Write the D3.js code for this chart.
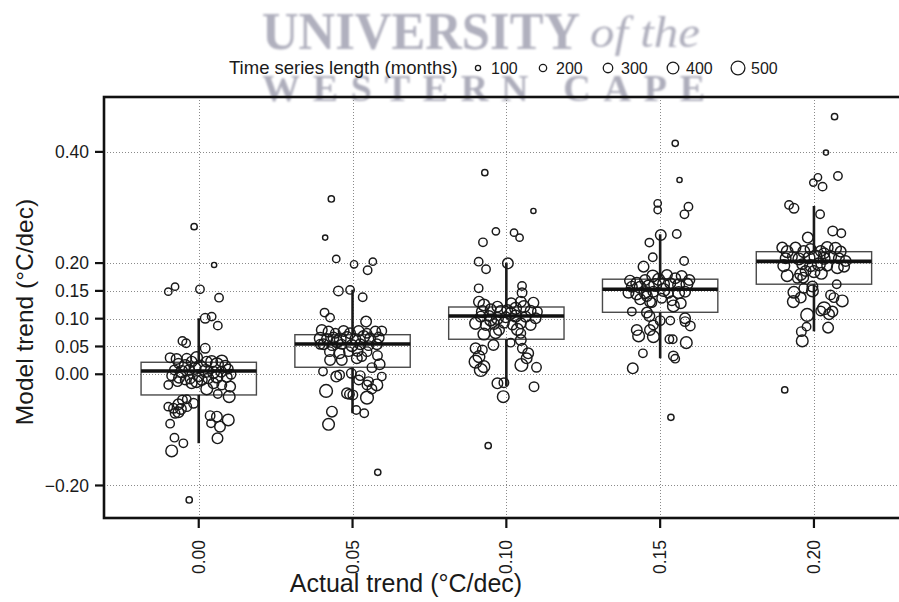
<!DOCTYPE html>
<html>
<head>
<meta charset="utf-8">
<script src="https://cdn.jsdelivr.net/npm/d3@7"></script>
<style>
  html, body { margin: 0; padding: 0; background: #fff; }
  svg { display: block; font-family: "Liberation Sans", Arial, Helvetica, sans-serif; }
</style>
</head>
<body>
<svg id="chart" width="899" height="602"></svg>
<script>
// Actual trend categories (°C/dec) and y-axis ticks
const categories = [0.00, 0.05, 0.10, 0.15, 0.20];
const yTicks = [-0.20, 0.00, 0.05, 0.10, 0.15, 0.20, 0.40];
const legendLengths = [100, 200, 300, 400, 500];

// Box-plot summaries per category
const boxLower   = [-0.0372, 0.0126, 0.0630, 0.1115, 0.1620];
const boxMedian  = [ 0.0060, 0.0545, 0.1049, 0.1530, 0.2030];
const boxUpper   = [ 0.0216, 0.0712, 0.1210, 0.1710, 0.2205];
const whiskerLow = [-0.1240, -0.0700, -0.0210, 0.0288, 0.0773];
const whiskerHigh= [ 0.1007, 0.1520, 0.2007, 0.2518, 0.3027];

// Individual model runs: [jitter (°C/dec), model trend (°C/dec), series length (months)]
const runs000 = [
  [-0.0015,0.2655,150],[0.0050,0.1966,100],[-0.0099,0.1486,200],[-0.0077,0.1576,200],[0.0004,0.1528,250],
  [0.0066,0.1378,250],[0.0021,0.1007,300],[0.0042,0.1037,250],[0.0062,0.0875,250],[-0.0053,0.0599,250],
  [-0.0041,0.0557,250],[0.0021,0.0467,300],[-0.0093,0.0299,300],[-0.0007,0.0299,400],[0.0075,0.0239,400],
  [-0.0066,0.0197,300],[-0.0044,0.0155,400],[-0.0023,0.0227,350],[0.0004,0.0137,450],[0.0042,0.0227,400],
  [0.0059,0.0179,450],[0.0086,0.0155,350],[-0.0079,0.0077,300],[-0.0055,0.0047,400],[-0.0031,0.0077,350],
  [-0.0012,0.0107,400],[0.0023,0.0059,450],[0.0048,0.0035,400],[0.0073,0.0047,350],[0.0096,0.0095,300],
  [-0.0088,-0.0025,300],[-0.0064,-0.0061,350],[-0.0028,-0.0085,300],[-0.0001,-0.0025,400],[0.0031,-0.0073,350],
  [0.0059,-0.0049,400],[0.0091,-0.0049,350],[0.0105,-0.0001,300],[-0.0099,-0.0192,250],[-0.0069,-0.0132,300],
  [-0.0044,-0.0102,300],[-0.0023,-0.0162,350],[0.0010,-0.0102,350],[0.0026,-0.0264,400],[0.0048,-0.0162,350],
  [0.0075,-0.0192,300],[0.0102,-0.0222,350],[0.0099,-0.0402,400],[0.0062,-0.0354,250],[-0.0007,-0.0132,400],
  [-0.0039,0.0287,300],[0.0026,0.0227,350],[-0.0072,0.0275,350],[-0.0099,-0.0582,250],[-0.0082,-0.0612,300],
  [-0.0066,-0.0540,350],[-0.0053,-0.0462,300],[-0.0039,-0.0450,250],[-0.0017,-0.0522,300],[-0.0066,-0.0684,350],
  [-0.0077,-0.0702,300],[-0.0093,-0.0888,250],[0.0040,-0.0882,250],[0.0059,-0.0762,350],[0.0096,-0.0822,400],
  [0.0069,-0.0942,350],[-0.0079,-0.1140,250],[-0.0050,-0.1242,250],[-0.0088,-0.1379,400],[0.0061,-0.1152,350],
  [-0.0031,-0.2261,150],[-0.0039,-0.0582,300],[-0.0058,-0.0624,350],[0.0037,-0.0744,300]
];
const runs005 = [
  [-0.0069,0.3153,150],[-0.0089,0.2458,100],[-0.0053,0.2074,200],[0.0005,0.1978,200],[0.0066,0.2026,200],
  [0.0049,0.1870,250],[-0.0046,0.1499,300],[-0.0008,0.1517,250],[0.0033,0.1385,250],[-0.0091,0.1109,250],
  [-0.0073,0.1019,250],[0.0044,0.0947,350],[-0.0100,0.0797,350],[-0.0078,0.0767,350],[-0.0056,0.0737,300],
  [-0.0029,0.0779,350],[-0.0008,0.0737,350],[0.0020,0.0779,350],[0.0047,0.0737,300],[0.0074,0.0767,350],
  [0.0095,0.0779,300],[-0.0105,0.0647,400],[-0.0083,0.0635,350],[-0.0062,0.0659,350],[-0.0040,0.0635,400],
  [-0.0018,0.0659,400],[0.0009,0.0635,350],[0.0036,0.0677,400],[0.0057,0.0647,350],[0.0085,0.0659,350],
  [-0.0094,0.0539,350],[-0.0067,0.0515,300],[-0.0035,0.0539,300],[-0.0002,0.0515,400],[0.0025,0.0539,350],
  [0.0052,0.0515,300],[0.0079,0.0539,350],[-0.0075,0.0407,300],[-0.0042,0.0378,350],[-0.0013,0.0407,300],
  [0.0016,0.0420,350],[0.0047,0.0407,300],[0.0081,0.0336,300],[-0.0073,0.0258,350],[-0.0035,0.0258,350],
  [0.0014,0.0288,350],[0.0030,0.0318,300],[0.0088,0.0180,350],[0.0063,0.0120,300],[-0.0051,0.0587,400],
  [-0.0105,0.0539,300],[-0.0096,0.0048,250],[-0.0053,-0.0042,350],[-0.0042,-0.0012,300],[-0.0004,0.0018,300],
  [0.0025,-0.0024,300],[0.0020,-0.0102,300],[0.0052,-0.0132,300],[0.0095,-0.0042,250],[0.0079,-0.0192,400],
  [0.0047,-0.0192,300],[-0.0086,-0.0300,450],[-0.0018,-0.0342,350],[0.0001,-0.0372,300],[-0.0010,-0.0360,300],
  [0.0047,-0.0420,450],[0.0012,-0.0642,250],[0.0038,-0.0702,250],[-0.0067,-0.0672,350],[-0.0078,-0.0900,400],
  [0.0082,-0.1763,150],[0.0063,-0.0264,300]
];
const runs010 = [
  [-0.0070,0.3626,150],[0.0088,0.2937,100],[-0.0034,0.2571,200],[0.0025,0.2547,200],[0.0043,0.2457,200],
  [-0.0076,0.2373,250],[-0.0090,0.2025,250],[0.0005,0.1995,350],[-0.0066,0.1888,250],[-0.0090,0.1546,250],
  [0.0051,0.1588,250],[0.0051,0.1468,300],[-0.0089,0.1306,350],[-0.0073,0.1246,400],[-0.0029,0.1216,350],
  [0.0016,0.1276,350],[0.0047,0.1306,350],[0.0088,0.1288,350],[-0.0078,0.1126,400],[-0.0051,0.1168,350],
  [-0.0018,0.1126,400],[0.0003,0.1156,350],[0.0030,0.1186,400],[0.0057,0.1216,400],[0.0079,0.1144,350],
  [0.0101,0.1126,300],[-0.0083,0.1036,350],[-0.0056,0.1048,350],[-0.0029,0.1006,400],[-0.0002,0.1024,350],
  [0.0030,0.1048,400],[0.0063,0.1036,350],[0.0095,0.1006,350],[-0.0100,0.0916,400],[-0.0067,0.0886,350],
  [-0.0040,0.0904,350],[-0.0008,0.0928,350],[0.0020,0.0886,300],[0.0047,0.0916,350],[0.0079,0.0886,350],
  [-0.0073,0.0724,400],[-0.0035,0.0748,400],[-0.0024,0.0796,350],[0.0036,0.0808,400],[0.0047,0.0736,300],
  [-0.0051,0.0976,400],[0.0014,0.1096,400],[0.0047,0.0617,350],[0.0014,0.0569,250],[-0.0042,0.0527,350],
  [-0.0100,0.0467,350],[-0.0078,0.0437,300],[-0.0089,0.0317,400],[0.0052,0.0467,300],[0.0071,0.0377,350],
  [0.0066,0.0287,350],[-0.0100,0.0227,450],[-0.0073,0.0137,400],[-0.0083,0.0077,450],[0.0049,0.0167,450],
  [0.0098,0.0125,300],[-0.0029,-0.0163,350],[-0.0008,-0.0151,300],[0.0090,-0.0223,300],[-0.0010,-0.0403,400],
  [-0.0059,-0.1284,150]
];
const runs015 = [
  [0.0049,0.4154,150],[0.0063,0.3495,100],[-0.0008,0.3075,200],[-0.0008,0.2955,200],[0.0092,0.3015,250],
  [0.0079,0.2877,250],[0.0002,0.2506,350],[0.0054,0.2524,250],[-0.0035,0.2368,250],[-0.0024,0.2104,250],
  [0.0078,0.2038,250],[-0.0054,0.1936,350],[-0.0098,0.1684,350],[-0.0076,0.1636,400],[-0.0049,0.1696,350],
  [-0.0024,0.1768,400],[-0.0005,0.1708,400],[0.0022,0.1786,350],[0.0049,0.1726,350],[0.0070,0.1768,350],
  [0.0095,0.1696,350],[-0.0092,0.1576,350],[-0.0065,0.1564,400],[-0.0038,0.1588,400],[-0.0016,0.1606,450],
  [0.0011,0.1624,400],[0.0033,0.1636,350],[0.0060,0.1606,400],[0.0087,0.1624,400],[-0.0103,0.1468,350],
  [-0.0076,0.1444,400],[-0.0049,0.1468,400],[-0.0022,0.1486,350],[0.0027,0.1456,300],[0.0060,0.1468,400],
  [0.0081,0.1486,350],[-0.0065,0.1348,350],[-0.0033,0.1306,350],[0.0005,0.1366,300],[0.0038,0.1324,300],
  [0.0043,0.1229,400],[0.0067,0.1277,350],[-0.0027,0.1289,300],[-0.0043,0.1408,350],[0.0011,0.1516,450],
  [-0.0092,0.1127,250],[-0.0043,0.1109,350],[-0.0035,0.1049,350],[0.0000,0.0965,300],[-0.0022,0.0887,300],
  [0.0033,0.0965,250],[0.0081,0.1007,350],[0.0081,0.0947,300],[0.0098,0.0869,300],[-0.0076,0.0797,350],
  [-0.0070,0.0689,400],[-0.0033,0.0797,350],[-0.0022,0.0677,400],[0.0030,0.0629,250],[0.0041,0.0629,250],
  [0.0085,0.0569,400],[-0.0056,0.0377,250],[0.0043,0.0329,300],[0.0049,0.0281,250],[-0.0089,0.0107,350],
  [0.0035,-0.0774,150]
];
const runs020 = [
  [0.0067,0.4634,150],[0.0039,0.3987,100],[0.0013,0.3543,200],[-0.0002,0.3447,200],[0.0028,0.3375,250],
  [0.0078,0.3567,250],[-0.0081,0.3046,250],[-0.0065,0.2986,300],[0.0020,0.2878,250],[0.0061,0.2578,300],
  [0.0089,0.2536,250],[-0.0020,0.2458,350],[-0.0103,0.2278,350],[-0.0087,0.2206,400],[-0.0060,0.2278,350],
  [-0.0033,0.2206,400],[-0.0011,0.2254,350],[0.0022,0.2218,350],[0.0043,0.2278,400],[0.0070,0.2266,400],
  [0.0087,0.2206,350],[-0.0092,0.2086,350],[-0.0070,0.2116,300],[-0.0049,0.2074,400],[-0.0016,0.2098,400],
  [0.0005,0.2116,450],[0.0033,0.2086,400],[0.0054,0.2116,400],[0.0081,0.2086,350],[0.0103,0.2038,350],
  [-0.0098,0.1954,400],[-0.0038,0.1978,350],[-0.0011,0.1954,400],[0.0016,0.1978,450],[0.0043,0.1954,350],
  [0.0076,0.1918,400],[0.0098,0.1936,350],[-0.0087,0.1774,400],[-0.0043,0.1798,400],[-0.0027,0.1858,350],
  [0.0000,0.1846,400],[0.0024,0.1816,400],[-0.0054,0.1726,300],[-0.0035,0.1738,350],[0.0033,0.2176,350],
  [0.0074,0.1619,250],[-0.0005,0.1577,350],[-0.0033,0.1547,300],[-0.0065,0.1475,400],[-0.0005,0.1499,400],
  [-0.0043,0.1379,350],[-0.0067,0.1307,400],[0.0054,0.1427,300],[0.0065,0.1379,300],[0.0092,0.1319,400],
  [0.0033,0.1187,450],[0.0022,0.1139,300],[0.0060,0.1127,350],[0.0049,0.1079,350],[-0.0022,0.1067,450],
  [0.0046,0.0839,350],[-0.0024,0.0857,250],[-0.0041,0.0767,300],[-0.0038,0.0600,400],[-0.0095,-0.0282,150]
];
const runsByCategory = [runs000, runs005, runs010, runs015, runs020];

const svg = d3.select("#chart");
const plot = { left: 104, right: 909, top: 97, bottom: 518 };

const x = d3.scaleLinear().domain([-0.0308, 0.2309]).range([plot.left, plot.right]);
const y = d3.scaleLinear().domain([-0.2585, 0.4987]).range([plot.bottom, plot.top]);
const r = d3.scaleLinear().domain([100, 500]).range([2.6, 6.9]);
const boxHalf = 0.01875;

// Faded crest lettering behind the header
const defs = svg.append("defs");
defs.append("filter").attr("id", "soft")
  .append("feGaussianBlur").attr("stdDeviation", 0.8);
const crest = svg.append("g").attr("filter", "url(#soft)")
  .style("font-family", "'Liberation Serif', 'DejaVu Serif', serif");
crest.append("text").attr("x", 262).attr("y", 49)
  .attr("textLength", 318).attr("lengthAdjust", "spacingAndGlyphs")
  .style("font-size", "53px").style("font-weight", "bold")
  .attr("fill", "#b0b0be").text("UNIVERSITY");
crest.append("text").attr("x", 590).attr("y", 47)
  .attr("textLength", 110).attr("lengthAdjust", "spacingAndGlyphs")
  .style("font-size", "44px").style("font-style", "italic")
  .attr("fill", "#b0b0be").text("of the");
crest.append("text").attr("x", 262).attr("y", 101)
  .attr("textLength", 443).attr("lengthAdjust", "spacing")
  .style("font-size", "38px").style("font-weight", "bold")
  .attr("fill", "#adadbb").text("WESTERN CAPE");

// Dotted grid
const grid = svg.append("g").attr("stroke", "#8a8a8a").attr("stroke-width", 1)
  .attr("stroke-dasharray", "1,2");
grid.selectAll("line.h").data(yTicks).join("line").attr("class", "h")
  .attr("x1", plot.left).attr("x2", plot.right)
  .attr("y1", d => Math.round(y(d)) + 0.5).attr("y2", d => Math.round(y(d)) + 0.5);
grid.selectAll("line.v").data(categories).join("line").attr("class", "v")
  .attr("y1", plot.top).attr("y2", plot.bottom)
  .attr("x1", d => Math.round(x(d)) + 0.5).attr("x2", d => Math.round(x(d)) + 0.5);

// Boxes
const boxes = svg.append("g");
categories.forEach((c, i) => {
  boxes.append("rect")
    .attr("x", x(c - boxHalf)).attr("width", x(c + boxHalf) - x(c - boxHalf))
    .attr("y", y(boxUpper[i])).attr("height", y(boxLower[i]) - y(boxUpper[i]))
    .attr("fill", "none").attr("stroke", "#4a4a4a").attr("stroke-width", 1.4);
  boxes.append("line")
    .attr("x1", x(c)).attr("x2", x(c))
    .attr("y1", y(boxUpper[i])).attr("y2", y(whiskerHigh[i]))
    .attr("stroke", "#1a1a1a").attr("stroke-width", 2.6);
  boxes.append("line")
    .attr("x1", x(c)).attr("x2", x(c))
    .attr("y1", y(boxLower[i])).attr("y2", y(whiskerLow[i]))
    .attr("stroke", "#1a1a1a").attr("stroke-width", 2.6);
});

// Jittered runs, sized by series length
const pts = svg.append("g").attr("fill", "none").attr("stroke", "#1a1a1a").attr("stroke-width", 1.45);
categories.forEach((c, i) => {
  pts.selectAll(null).data(runsByCategory[i]).join("circle")
    .attr("cx", d => x(c + d[0]))
    .attr("cy", d => y(d[1]))
    .attr("r", d => r(d[2]));
});

// Medians on top
svg.append("g").selectAll("line").data(categories).join("line")
  .attr("x1", d => x(d - boxHalf)).attr("x2", d => x(d + boxHalf))
  .attr("y1", (d, i) => y(boxMedian[i])).attr("y2", (d, i) => y(boxMedian[i]))
  .attr("stroke", "#111").attr("stroke-width", 3.6);

// Frame
svg.append("rect")
  .attr("x", plot.left).attr("y", plot.top)
  .attr("width", plot.right - plot.left).attr("height", plot.bottom - plot.top)
  .attr("fill", "none").attr("stroke", "#111").attr("stroke-width", 2.6);

// Y axis ticks and labels
const yAxis = svg.append("g");
yAxis.selectAll("line").data(yTicks).join("line")
  .attr("x1", plot.left - 9).attr("x2", plot.left)
  .attr("y1", d => y(d)).attr("y2", d => y(d))
  .attr("stroke", "#111").attr("stroke-width", 2.2);
yAxis.selectAll("text").data(yTicks).join("text")
  .attr("x", plot.left - 15).attr("y", d => y(d)).attr("dy", "0.35em")
  .attr("text-anchor", "end").style("font-size", "17.5px").attr("fill", "#1a1a1a")
  .text(d => d3.format(".2f")(d).replace("-", "\u2212"));

// X axis ticks and labels
const xAxis = svg.append("g");
xAxis.selectAll("line").data(categories).join("line")
  .attr("x1", d => x(d)).attr("x2", d => x(d))
  .attr("y1", plot.bottom).attr("y2", plot.bottom + 10)
  .attr("stroke", "#111").attr("stroke-width", 2.2);
xAxis.selectAll("text").data(categories).join("text")
  .attr("transform", d => `translate(${x(d)},${plot.bottom + 22}) rotate(-90)`)
  .attr("dy", "0.35em").attr("text-anchor", "end")
  .style("font-size", "17.5px").attr("fill", "#1a1a1a")
  .text(d => d3.format(".2f")(d));

// Axis titles
svg.append("text").attr("x", 406).attr("y", 592).attr("text-anchor", "middle")
  .style("font-size", "25px").attr("fill", "#1a1a1a").text("Actual trend (\u00B0C/dec)");
svg.append("text").attr("transform", "translate(33,312) rotate(-90)").attr("text-anchor", "middle")
  .style("font-size", "24.5px").attr("fill", "#1a1a1a").text("Model trend (\u00B0C/dec)");

// Size legend
const legend = svg.append("g");
legend.append("text").attr("x", 229).attr("y", 74).style("font-size", "18.5px")
  .attr("fill", "#1a1a1a").text("Time series length (months)");
const lx = d3.scalePoint().domain(legendLengths).range([478, 738]);
legend.selectAll("circle").data(legendLengths).join("circle")
  .attr("cx", d => lx(d)).attr("cy", 68).attr("r", d => r(d))
  .attr("fill", "none").attr("stroke", "#1a1a1a").attr("stroke-width", 1.3);
legend.selectAll("text.lab").data(legendLengths).join("text").attr("class", "lab")
  .attr("x", d => lx(d) + 13).attr("y", 74).style("font-size", "16px")
  .attr("fill", "#1a1a1a").text(d => d);
</script>
</body>
</html>
